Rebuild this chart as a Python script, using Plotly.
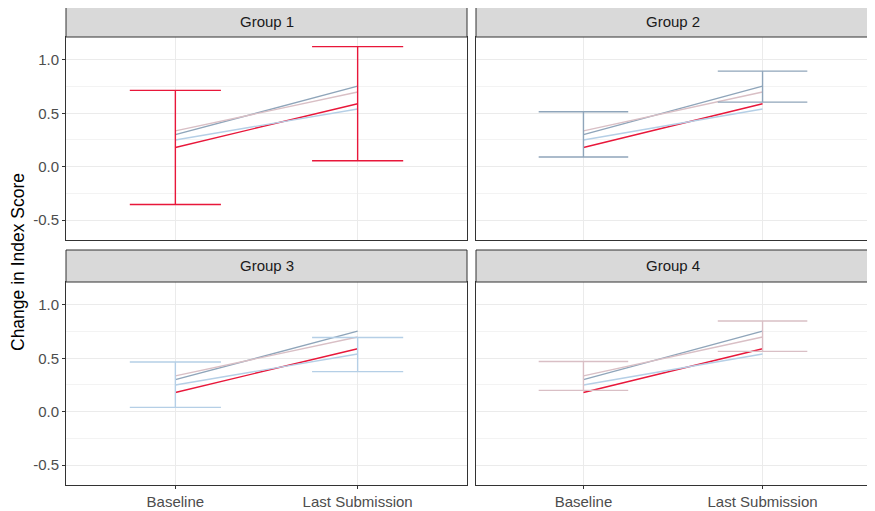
import plotly.graph_objects as go

groups = ["Group 1", "Group 2", "Group 3", "Group 4"]
colors = ["#E8173A", "#8FA5BA", "#B5CFE6", "#D9BFC5"]
timepoints = ["Baseline", "Last Submission"]
x_pos = [1, 2]

mean_baseline = [0.18, 0.30, 0.25, 0.335]
mean_last = [0.59, 0.755, 0.54, 0.70]

err_low_baseline = [-0.355, 0.09, 0.04, 0.20]
err_high_baseline = [0.715, 0.515, 0.465, 0.47]
err_low_last = [0.055, 0.605, 0.375, 0.565]
err_high_last = [1.125, 0.895, 0.695, 0.85]

OFF = 8  # default page body margin
W, H = 875 - OFF, 511 - OFF
cols_px = [(66, 467), (476, 870)]
rows_px = [((6, 37), (37, 240)), ((250, 282), (282, 485))]

def py(p):
    return 1 - (p - OFF) / H

def px(p):
    return (p - OFF) / W

fig = go.Figure()
shapes = []
annotations = []
cap_half = 0.25
font_fam = "Liberation Sans, Arial"
tick_size = 15

for i, g in enumerate(groups):
    r, c = divmod(i, 2)
    (sx0, sx1) = cols_px[c]
    (st, sb), (pt, pb) = rows_px[r]
    n = i + 1
    xa = "x" if n == 1 else f"x{n}"
    ya = "y" if n == 1 else f"y{n}"
    xk = "xaxis" if n == 1 else f"xaxis{n}"
    yk = "yaxis" if n == 1 else f"yaxis{n}"

    for j in range(4):
        fig.add_trace(go.Scatter(
            x=x_pos, y=[mean_baseline[j], mean_last[j]], mode="lines",
            line=dict(color=colors[j], width=1.4), xaxis=xa, yaxis=ya,
            showlegend=False, hoverinfo="skip"))
    ex, ey = [], []
    lows = [err_low_baseline[i], err_low_last[i]]
    highs = [err_high_baseline[i], err_high_last[i]]
    for k, xv in enumerate(x_pos):
        ex += [xv, xv, None, xv - cap_half, xv + cap_half, None, xv - cap_half, xv + cap_half, None]
        ey += [lows[k], highs[k], None, lows[k], lows[k], None, highs[k], highs[k], None]
    fig.add_trace(go.Scatter(
        x=ex, y=ey, mode="lines", line=dict(color=colors[i], width=1.4),
        xaxis=xa, yaxis=ya, showlegend=False, hoverinfo="skip"))

    fig.layout[xk] = dict(
        domain=[px(sx0), px(sx1)], range=[0.4, 2.6], anchor=ya,
        tickvals=x_pos, ticktext=timepoints, showticklabels=(r == 1),
        ticks="outside" if r == 1 else "", ticklen=3, tickcolor="#333333",
        showgrid=True, gridcolor="#EBEBEB", gridwidth=1.1,
        zeroline=False, showline=True, linecolor="#333333", linewidth=1, mirror=True,
        tickfont=dict(family=font_fam, size=tick_size, color="#4D4D4D"),
        fixedrange=True)
    fig.layout[yk] = dict(
        domain=[py(pb), py(pt)], range=[-0.687, 1.215], anchor=xa,
        tickvals=[-0.5, 0.0, 0.5, 1.0], ticktext=["-0.5", "0.0", "0.5", "1.0"],
        showticklabels=(c == 0), ticks="outside" if c == 0 else "", ticklen=3,
        tickcolor="#333333", showgrid=True, gridcolor="#EBEBEB", gridwidth=1.1,
        minor=dict(tickvals=[-0.25, 0.25, 0.75], showgrid=True, gridcolor="#F3F3F3", gridwidth=0.6, ticks=""),
        zeroline=False, showline=True, linecolor="#333333", linewidth=1, mirror=True,
        tickfont=dict(family=font_fam, size=tick_size, color="#4D4D4D"),
        fixedrange=True)

    shapes.append(dict(type="rect", xref="paper", yref="paper",
                       x0=px(sx0), x1=px(sx1), y0=py(sb), y1=py(st),
                       fillcolor="#D9D9D9", line=dict(color="#333333", width=1)))
    annotations.append(dict(text=g, xref="paper", yref="paper",
                            x=(px(sx0) + px(sx1)) / 2, y=(py(st) + py(sb)) / 2,
                            showarrow=False, xanchor="center", yanchor="middle",
                            font=dict(family=font_fam, size=15, color="#1A1A1A")))

annotations.append(dict(text="Change in Index Score", xref="paper", yref="paper",
                        x=px(18), y=py(262), textangle=-90, showarrow=False,
                        xanchor="center", yanchor="middle",
                        font=dict(family=font_fam, size=17.5, color="#000000")))

fig.update_layout(width=W, height=H, margin=dict(l=0, r=0, t=0, b=0),
                  paper_bgcolor="white", plot_bgcolor="white",
                  shapes=shapes, annotations=annotations, showlegend=False)

fig.write_html("out.html")
